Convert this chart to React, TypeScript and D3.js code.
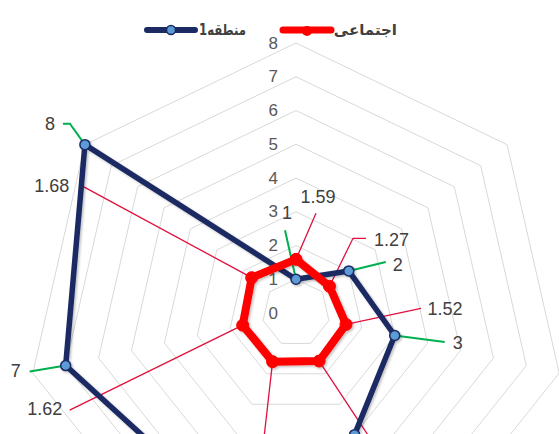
import React from "react";
import * as d3 from "d3";

const categories = ["c1", "c2", "c3", "c4", "c5", "c6", "c7"];
const regionValues = [1, 2, 3, 4, 6, 7, 8];
const socialValues = [1.59, 1.27, 1.52, 1.58, 1.6, 1.62, 1.68];
const axisTicks = [0, 1, 2, 3, 4, 5, 6, 7, 8];
const seriesNames = ["منطقه1", "اجتماعی"];

// layout (label offsets relative to the data point)
const regionLabelOff = [[-9, -66], [49, -6], [63, 7], [60, 22], [-40, 20], [-50, 5], [-35, -21]];
const regionLeader = [[[-11, -49]], [[37, -9]], [[50, 6.5]], [[45, 20]], [[-30, 18]], [[-36, 6]], [[-15, -21], [-22, -21]]];
const socialLabelOff = [[22, -62], [62, -46], [99, -15], [70, 112], [-12, 112], [-198, 84], [-200, -92]];
const socialLeader = [[[20, -46]], [[23.5, -48], [36.5, -48]], [[75, -16]], [[62, 94]], [[-11, 98]], [[-173, 85]], [[-172, -93]]];

const W = 559, H = 434;
const cx = 296, cy = 313, R = 270;
const NAVY = "#1B2A63";
const RED = "#FF0000";

export default function App() {
  const n = categories.length;
  const r = d3.scaleLinear().domain([0, 8]).range([0, R]);
  const ang = d3.scaleLinear().domain([0, n]).range([0, 2 * Math.PI]);
  const pt = (i: number, v: number): [number, number] => {
    const a = ang(i);
    return [cx + r(v) * Math.sin(a), cy - r(v) * Math.cos(a)];
  };
  const closed = d3.line<[number, number]>().curve(d3.curveLinearClosed);
  const open = d3.line<[number, number]>();

  const grid = axisTicks.slice(1).map((t) => closed(categories.map((_, i) => pt(i, t))) as string);
  const regionPts = regionValues.map((v, i) => pt(i, v));
  const socialPts = socialValues.map((v, i) => pt(i, v));

  const font = "'Liberation Sans', Arial, sans-serif";

  return (
    <svg width={W} height={H} style={{ position: "absolute", left: 0, top: 0, background: "#fff" }}>
      <defs>
        <filter id="sh" x="-10%" y="-10%" width="120%" height="120%">
          <feDropShadow dx="1.5" dy="1.5" stdDeviation="1.2" floodColor="#000" floodOpacity="0.25" />
        </filter>
      </defs>
      {grid.map((d, i) => (
        <path key={i} d={d} fill="none" stroke="#D9D9D9" strokeWidth={1} />
      ))}
      {axisTicks.map((t) => (
        <text key={t} x={cx - 18} y={cy - r(t)} fill="#595959" fontSize={17} fontFamily={font}
          textAnchor="end" dominantBaseline="central">{t}</text>
      ))}
      {/* leader lines */}
      {regionPts.map((p, i) => (
        <path key={"rl" + i} d={open([p, ...regionLeader[i].map((o) => [p[0] + o[0], p[1] + o[1]] as [number, number])]) as string}
          fill="none" stroke="#00B050" strokeWidth={2} />
      ))}
      {socialPts.map((p, i) => (
        <path key={"sl" + i} d={open([p, ...socialLeader[i].map((o) => [p[0] + o[0], p[1] + o[1]] as [number, number])]) as string}
          fill="none" stroke="#E0103F" strokeWidth={1.3} />
      ))}
      {/* region series */}
      <g filter="url(#sh)">
        <path d={closed(regionPts) as string} fill="none" stroke={NAVY} strokeWidth={5.5} strokeLinejoin="round" />
        {regionPts.map((p, i) => (
          <circle key={i} cx={p[0]} cy={p[1]} r={5} fill="#5B9BD5" stroke={NAVY} strokeWidth={1.5} />
        ))}
      </g>
      {/* social series */}
      <g filter="url(#sh)">
        <path d={closed(socialPts) as string} fill="none" stroke={RED} strokeWidth={8} strokeLinejoin="round" />
        {socialPts.map((p, i) => (
          <circle key={i} cx={p[0]} cy={p[1]} r={6} fill={RED} stroke={RED} />
        ))}
      </g>
      {/* data labels */}
      {regionPts.map((p, i) => (
        <text key={"rt" + i} x={p[0] + regionLabelOff[i][0]} y={p[1] + regionLabelOff[i][1]} fill="#404040"
          fontSize={18} fontFamily={font} textAnchor="middle" dominantBaseline="central">{regionValues[i]}</text>
      ))}
      {socialPts.map((p, i) => (
        <text key={"st" + i} x={p[0] + socialLabelOff[i][0]} y={p[1] + socialLabelOff[i][1]} fill="#404040"
          fontSize={18} fontFamily={font} textAnchor="middle" dominantBaseline="central">{socialValues[i].toFixed(2)}</text>
      ))}
      {/* legend */}
      <g>
        <line x1={147} x2={195} y1={30} y2={30} stroke={NAVY} strokeWidth={6} strokeLinecap="round" />
        <circle cx={171} cy={30} r={4.5} fill="#5B9BD5" stroke={NAVY} strokeWidth={1.5} />
        <text x={246} y={30} fill="#404040" fontSize={15} fontWeight="bold" fontFamily="'DejaVu Sans', sans-serif"
          textAnchor="start" direction="rtl" dominantBaseline="central" textLength={47} lengthAdjust="spacingAndGlyphs">{seriesNames[0]}</text>
        <line x1={283} x2={331} y1={30} y2={30} stroke={RED} strokeWidth={7} strokeLinecap="round" />
        <circle cx={307} cy={31} r={5} fill={RED} />
        <text x={397} y={30} fill="#404040" fontSize={15} fontWeight="bold" fontFamily="'DejaVu Sans', sans-serif"
          textAnchor="start" direction="rtl" dominantBaseline="central">{seriesNames[1]}</text>
      </g>
    </svg>
  );
}
